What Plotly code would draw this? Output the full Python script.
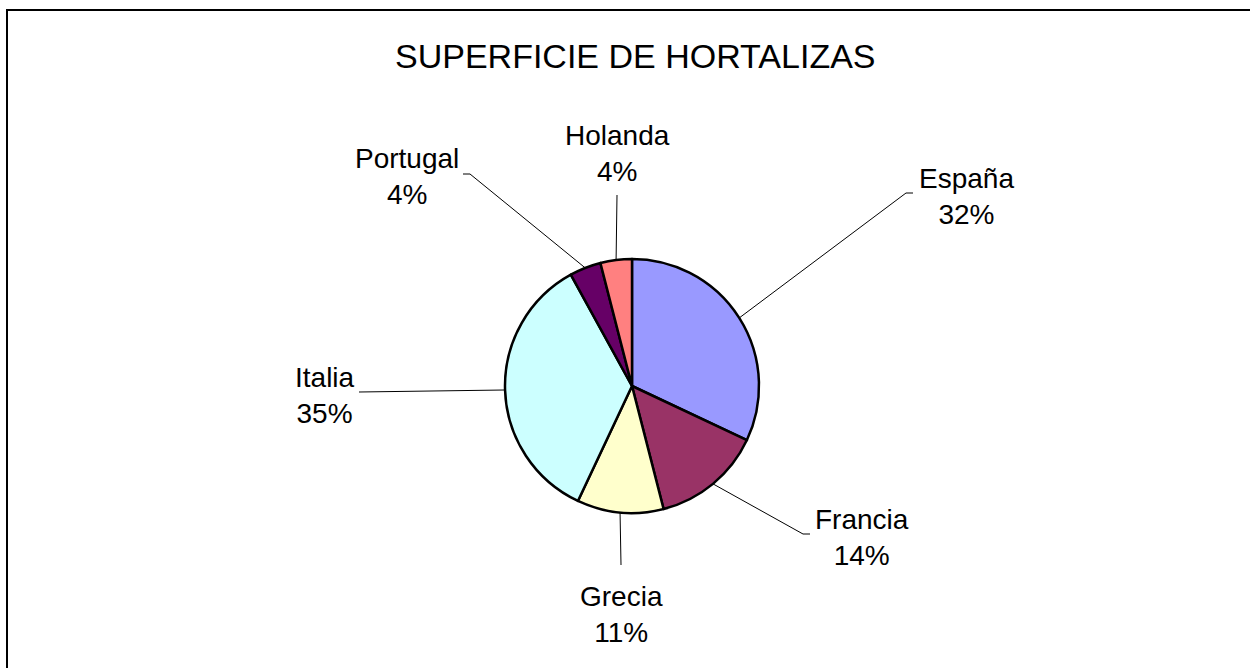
import numpy as np
import plotly.graph_objects as go

# ---- data ----
countries = ["España", "Francia", "Grecia", "Italia", "Portugal", "Holanda"]
shares = [32, 14, 11, 35, 4, 4]
colors = ["#9999FF", "#993366", "#FFFFCC", "#CCFFFF", "#660066", "#FF8080"]
title_text = "SUPERFICIE DE HORTALIZAS"

# ---- layout settings (page pixels) ----
W, H = 1250, 668
CX, CY, R = 632, 386, 127
label_centers = [(966, 197), (862, 537), (621, 614), (325, 395), (407, 176), (617, 153)]
leader_ends = [(906, 193), (803, 534), (621, 565), (359, 392), (470, 174), (617, 195)]
leader_ticks = [7, 7, 0, 0, -7, 0]
FONT = "Liberation Sans, Arial, sans-serif"


def px(x):
    return x / W


def py(y):
    return 1 - y / H


fig = go.Figure(
    go.Pie(
        labels=countries,
        values=shares,
        sort=False,
        direction="clockwise",
        rotation=0,
        marker=dict(colors=colors, line=dict(color="black", width=2.5)),
        textinfo="none",
        hoverinfo="label+percent",
        showlegend=False,
        domain=dict(x=[px(CX - R), px(CX + R)], y=[py(CY + R), py(CY - R)]),
    )
)

# leader lines from slice mid-angles
vals = np.array(shares, dtype=float)
cum = np.cumsum(vals) - vals / 2
ang = cum / vals.sum() * 2 * np.pi
shapes = []
for a, (ex, ey), t in zip(ang, leader_ends, leader_ticks):
    sx = CX + R * np.sin(a)
    sy = CY - R * np.cos(a)
    shapes.append(dict(type="line", xref="paper", yref="paper",
                       x0=px(sx), y0=py(sy), x1=px(ex), y1=py(ey),
                       line=dict(color="black", width=1)))
    if t:
        shapes.append(dict(type="line", xref="paper", yref="paper",
                           x0=px(ex), y0=py(ey), x1=px(ex + t), y1=py(ey),
                           line=dict(color="black", width=1)))

# chart border (top and left edges visible in the frame)
shapes.append(dict(type="line", xref="paper", yref="paper",
                   x0=px(6), y0=py(10), x1=1, y1=py(10),
                   line=dict(color="black", width=2)))
shapes.append(dict(type="line", xref="paper", yref="paper",
                   x0=px(7), y0=py(9), x1=px(7), y1=0,
                   line=dict(color="black", width=2)))

annotations = []
pct = np.round(vals / vals.sum() * 100).astype(int)
for name, p, (lx, ly) in zip(countries, pct, label_centers):
    annotations.append(dict(
        text=f"{name}<br>{p}%", x=px(lx), y=py(ly), xref="paper", yref="paper",
        xanchor="center", yanchor="middle", showarrow=False, align="center",
        font=dict(family=FONT, size=28, color="black")))

annotations.append(dict(
    text=title_text, x=px(635), y=py(56.5), xref="paper", yref="paper",
    xanchor="center", yanchor="middle", showarrow=False,
    font=dict(family=FONT, size=34, color="black")))

fig.update_layout(
    width=W, height=H,
    margin=dict(l=0, r=0, t=0, b=0),
    paper_bgcolor="white", plot_bgcolor="white",
    shapes=shapes, annotations=annotations,
)

fig.write_html(
    "out.html",
    config={"displayModeBar": False},
    post_script="document.body.style.margin='0px';document.body.style.overflow='hidden';",
)
